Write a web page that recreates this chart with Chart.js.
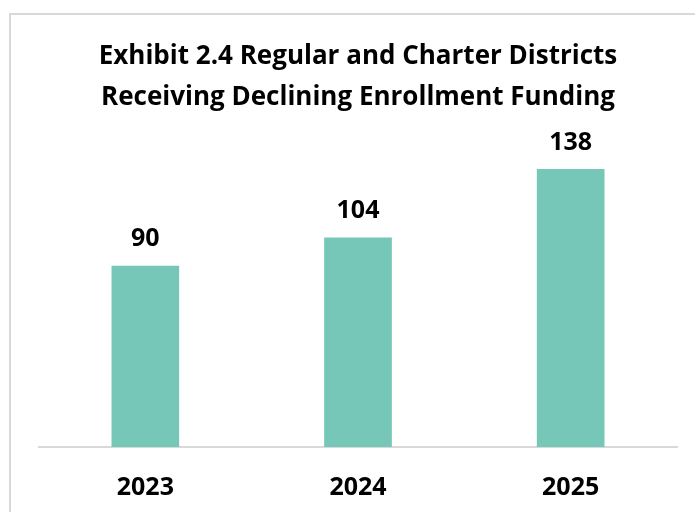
<!DOCTYPE html>
<html>
<head>
<meta charset="utf-8">
<script src="https://cdn.jsdelivr.net/npm/chart.js@4"></script>
<style>
  html, body { margin: 0; padding: 0; background: #fff; overflow: hidden; }
  #wrap { position: absolute; left: 0; top: 0; width: 695px; height: 512px; }
  #frame { position: absolute; left: 9px; top: 13px; width: 720px; height: 540px;
           border-left: 2px solid #d9d9d9; border-top: 2px solid #d9d9d9; }
</style>
</head>
<body>
<div id="wrap">
  <div id="frame"></div>
  <canvas id="districtChart" width="695" height="512"></canvas>
</div>
<script>
// Exhibit 2.4 data
const years = ['2023', '2024', '2025'];
const districts = [90, 104, 138];
const chartTitle = ['Exhibit 2.4 Regular and Charter Districts', 'Receiving Declining Enrollment Funding'];

const fontFamily = '"Open Sans", Lato, sans-serif';

// draws the value above each bar
const barValues = {
    id: 'barValues',
    afterDatasetsDraw(chart) {
        const ctx = chart.ctx;
        const meta = chart.getDatasetMeta(0);
        ctx.save();
        ctx.font = 'bold 25px ' + fontFamily;
        ctx.fillStyle = '#000';
        ctx.textAlign = 'center';
        ctx.textBaseline = 'middle';
        meta.data.forEach((bar, i) => {
            ctx.fillText(districts[i], bar.x, bar.y - 27);
        });
        ctx.restore();
    }
};

const ctx = document.getElementById('districtChart').getContext('2d');
const districtChart = new Chart(ctx, {
    type: 'bar',
    data: {
        labels: years,
        datasets: [{
            data: districts,
            backgroundColor: '#76c7b7',
            borderWidth: 0,
            barThickness: 67
        }]
    },
    options: {
        responsive: false,
        animation: false,
        layout: { padding: { left: 39, right: 18, top: 0, bottom: 0 } },
        plugins: {
            legend: { display: false },
            tooltip: { enabled: false },
            title: {
                display: true,
                text: chartTitle,
                color: '#000',
                font: { family: fontFamily, size: 26, weight: 'bold', lineHeight: 1.58 },
                padding: { top: 36, bottom: 7 }
            }
        },
        scales: {
            x: {
                grid: { display: false, drawTicks: false },
                border: { display: true, color: '#d9d9d9', width: 2 },
                ticks: {
                    color: '#000',
                    padding: 26,
                    font: { family: fontFamily, size: 25, weight: 'bold' }
                },
                afterFit(scale) { scale.height = 65; }
            },
            y: {
                display: false,
                min: 0,
                max: 160
            }
        }
    },
    plugins: [barValues]
});
</script>
</body>
</html>
